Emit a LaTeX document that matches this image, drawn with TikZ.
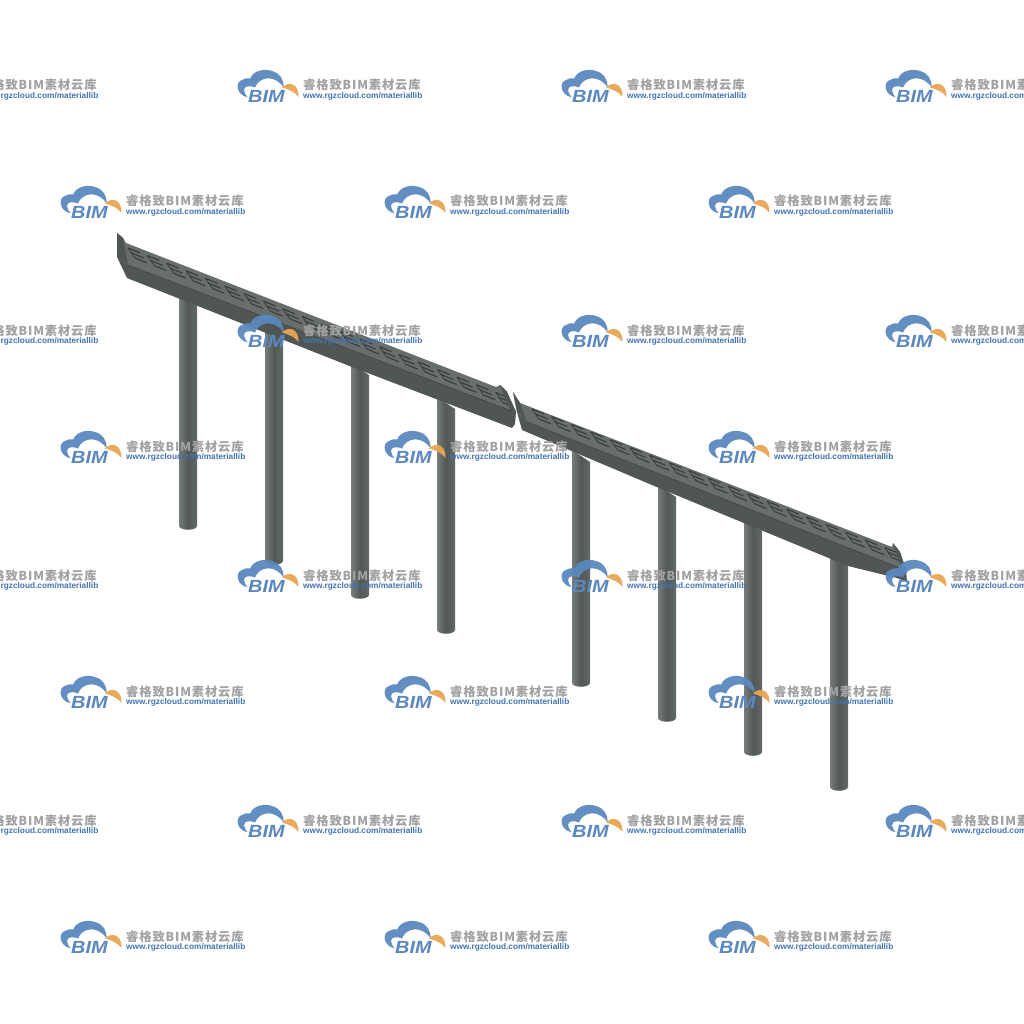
\documentclass[tikz,border=0pt]{standalone}
\usepackage{graphicx}
\usepackage{fontspec}
\setmainfont{Liberation Sans}
\newfontfamily\cjkfont[LetterSpace=7]{Noto Sans CJK SC}
\definecolor{topface}{HTML}{686E6B}
\definecolor{sideface}{HTML}{505653}
\definecolor{slotdark}{HTML}{383D3B}
\definecolor{edgeline}{HTML}{424745}
\definecolor{collight}{HTML}{767C79}
\definecolor{colmid}{HTML}{525856}
\definecolor{colright}{HTML}{636966}
\definecolor{logoblue}{HTML}{5B88BE}
\definecolor{logoorange}{HTML}{E9A654}
\definecolor{logogray}{HTML}{A2A2A2}
\definecolor{logotext}{HTML}{4273B3}
\tikzset{
  sidesurf/.style={fill=sideface,draw=none},
  slotline/.style={draw=slotdark,line width=1.1pt},
  lipline/.style={draw=edgeline,line width=.7pt},
  bimlogo/.pic={
    \fill[logoblue,opacity=.95] (9.7,27.3) .. controls (-2,25) and (-3,12) .. (4,10) .. controls (6,8.5) and (9,8) .. (12.3,8.3)
      .. controls (15,1) and (26,-2) .. (34,1) .. controls (42,3) and (46,10) .. (45.7,17.3)
      .. controls (42,12) and (36,8) .. (30,8.3) .. controls (24,8.5) and (19,12) .. (17,17.5)
      .. controls (12,15) and (6,16) .. (6,20) .. controls (6,23) and (8,25) .. (9.7,27.3) -- cycle;
    \fill[logoorange,opacity=.95] (44,17.5) .. controls (50,11) and (61,13) .. (60.5,27)
      .. controls (57,22) and (51,19.5) .. (44,17.5) -- cycle;
    \node[anchor=base west,inner sep=0pt,text=logoblue,font=\bfseries\itshape\fontsize{17.6}{20}\selectfont] (-bim) at (10,32.3) {\scalebox{1.13}[1]{BIM}};
    \node[anchor=base west,inner sep=0pt,text=logogray,font=\cjkfont\bfseries\fontsize{12.3}{13}\selectfont] (-name) at (65,20) {睿格致BIM素材云库};
    \node[anchor=base west,inner sep=0pt,text=logotext,font=\bfseries\fontsize{8.3}{9}\selectfont] (-url) at (65,28.5) {www.rgzcloud.com/materiallib};
  }
}
\newcommand{\leftface}{(117,233) -- (123,238) -- (126,243) -- (496,387) -- (500,385) -- (507,392) -- (516,412) -- (128,265) -- (117,257) -- cycle}
\newcommand{\rightface}{(513,392) -- (520,403) -- (892,547) -- (893,543) -- (900,552) -- (906,570) -- (527,422) -- (517,412) -- cycle}
\begin{document}
\begin{tikzpicture}[x=1pt,y=-1pt]
\useasboundingbox (0,0) rectangle (1024,1024);
\clip (0,0) rectangle (1024,1024);
\fill[white] (0,0) rectangle (1024,1024);
% columns
\foreach \cx/\cy/\ct in {188/530/294,274/565/328,360/599/363,446/634/397,581/687/450,667/722/485,753/756/519,839/791/554}{
  \path[left color=collight,right color=colright,middle color=colmid]
    (\cx-9,\ct) -- (\cx-9,\cy-4) .. controls (\cx-8,\cy+1) and (\cx+8,\cy+1) .. (\cx+9,\cy-4) -- (\cx+9,\ct+12) -- cycle;
}
% left beam
\fill[sidesurf] (117,257) -- (127,278) -- (352,367) -- (512,428) -- (515,424) -- (516,412) -- (128,265) -- cycle;
\fill[topface] \leftface;
\fill[sidesurf] (117,233) -- (123,238) -- (128,265) -- (117,257) -- cycle;
\begin{scope}
  \clip \leftface;
  \foreach \i in {0,...,19}{
    \begin{scope}[shift={(128+\i*19.35,248+\i*7.6)}]
      \draw[slotline] (0,0) -- (12,4.9) (3.5,5) -- (15.5,9.9) (7,10) -- (19,14.9);
      \draw[slotline,line width=.8pt] (0,0) -- (7,10);
    \end{scope}
  }
\end{scope}
\fill[sidesurf] (500,385) -- (507,392) -- (516,412) -- (510,410) -- cycle;
\draw[lipline] (128,265) -- (512,411);
% right beam
\fill[sidesurf] (517,412) -- (527,422) -- (906,570) -- (907,582) -- (897,578) -- (848,566) -- (659,488) -- (522,430) -- cycle;
\fill[topface] \rightface;
\fill[sidesurf] (513,392) -- (520,403) -- (527,422) -- (517,412) -- cycle;
\begin{scope}
  \clip \rightface;
  \foreach \i in {0,...,18}{
    \begin{scope}[shift={(532+\i*19.6,409+\i*7.7)}]
      \draw[slotline] (0,0) -- (12,4.9) (3.5,5) -- (15.5,9.9) (7,10) -- (19,14.9);
      \draw[slotline,line width=.8pt] (0,0) -- (7,10);
    \end{scope}
  }
\end{scope}
\fill[sidesurf] (893,543) -- (900,552) -- (907,573) -- (902,570) -- cycle;
\draw[lipline] (527,422) -- (900,568);
% watermark logos
\foreach \lx/\ly in {-86/70,238/70,562/70,886/70,-86/315,238/315,562/315,886/315,-86/560,238/560,562/560,886/560,-86/805,238/805,562/805,886/805,61/186,385/186,709/186,61/431,385/431,709/431,61/676,385/676,709/676,61/921,385/921,709/921}{
  \pic at (\lx,\ly) {bimlogo};
}
\end{tikzpicture}
\end{document}
